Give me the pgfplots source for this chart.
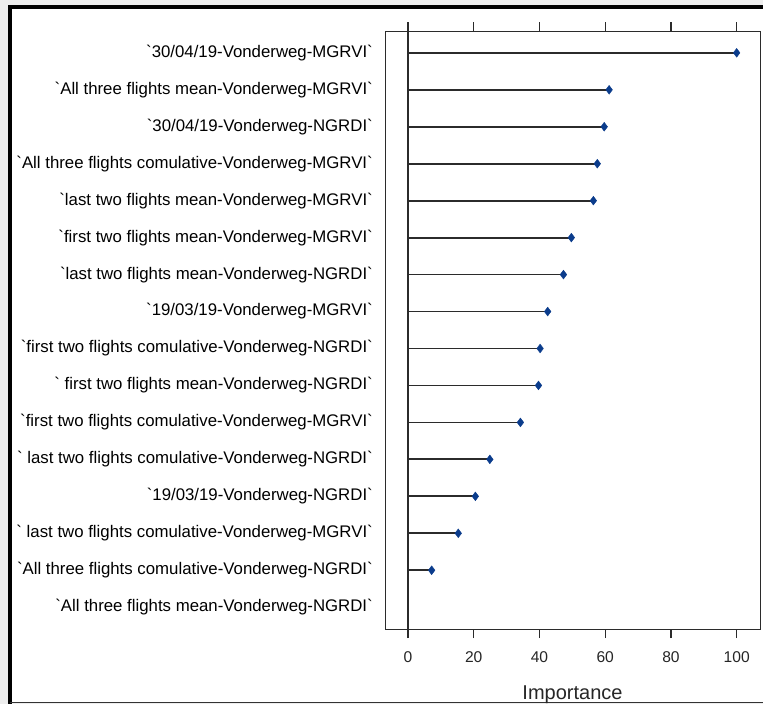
\documentclass[border=0pt]{standalone}
\usepackage{pgfplots}
\pgfplotsset{compat=1.18}
\usepackage{pgfplotstable}
\usepackage{fontspec}
\setmainfont{Liberation Sans}
\definecolor{stem}{HTML}{2B2B2B}
\definecolor{dot}{HTML}{0B3C8C}
\definecolor{edge}{HTML}{EDEDED}
\newcommand{\bq}{\textasciigrave}

% variable importance, ranked from the top
\pgfplotstableread{
rank imp
1  100
2  61.2
3  59.7
4  57.6
5  56.4
6  49.7
7  47.3
8  42.5
9  40.2
10 39.7
11 34.2
12 24.9
13 20.5
14 15.3
15 7.2
16 0
}\importance

\begin{document}
\begin{tikzpicture}
\useasboundingbox (0,0) rectangle (763bp,-704bp);
% page background and frame
\fill[edge] (0,0) rectangle (763bp,-704bp);
\fill[white] (9.5bp,-7bp) rectangle (763bp,-702.5bp);
\draw[black, line width=4bp] (9.5bp,-704bp) -- (9.5bp,-7bp) -- (763bp,-7bp);
\draw[black!80, line width=1.5bp] (9.5bp,-702.5bp) -- (763bp,-702.5bp);

\begin{axis}[
  at={(385bp,-629bp)}, anchor=south west,
  scale only axis, width=375bp, height=598bp,
  xmin=-7, xmax=107.1, ymin=0.41, ymax=16.59, y dir=reverse,
  axis line style={draw=stem, line width=1bp},
  clip=false,
  xtick={0,20,...,100}, xtick pos=both, xticklabel pos=lower,
  tick align=outside, major tick length=9bp,
  xtick style={draw=stem, line width=1.2bp},
  ytick={1,...,16}, ytick style={draw=none},
  /pgf/number format/assume math mode=true,
  xticklabel style={font=\fontsize{15.6bp}{18bp}\selectfont, text=black!85, yshift=-10bp},
  yticklabel style={font=\fontsize{16.8bp}{20bp}\selectfont, text=black, inner sep=0pt, xshift=-3bp},
  yticklabels={
    {\bq30/04/19-Vonderweg-MGRVI\bq},
    {\bq All three flights mean-Vonderweg-MGRVI\bq},
    {\bq30/04/19-Vonderweg-NGRDI\bq},
    {\bq All three flights comulative-Vonderweg-MGRVI\bq},
    {\bq last two flights mean-Vonderweg-MGRVI\bq},
    {\bq first two flights mean-Vonderweg-MGRVI\bq},
    {\bq last two flights mean-Vonderweg-NGRDI\bq},
    {\bq19/03/19-Vonderweg-MGRVI\bq},
    {\bq first two flights comulative-Vonderweg-NGRDI\bq},
    {\bq\ first two flights mean-Vonderweg-NGRDI\bq},
    {\bq first two flights comulative-Vonderweg-MGRVI\bq},
    {\bq\ last two flights comulative-Vonderweg-NGRDI\bq},
    {\bq19/03/19-Vonderweg-NGRDI\bq},
    {\bq\ last two flights comulative-Vonderweg-MGRVI\bq},
    {\bq All three flights comulative-Vonderweg-NGRDI\bq},
    {\bq All three flights mean-Vonderweg-NGRDI\bq}},
  xlabel={Importance},
  xlabel style={at={(axis description cs:0.5,0)}, anchor=base, yshift=-70bp,
    font=\fontsize{20bp}{24bp}\selectfont, text=black!85},
]
\addplot[xcomb, draw=stem, line width=1.8bp] table[x=imp, y=rank]{\importance};
\draw[stem, line width=2bp] (axis cs:0,0.41) -- (axis cs:0,16.59);
\addplot[only marks, mark=diamond*, mark size=4.4bp, color=dot,
  skip coords between index={15}{16}] table[x=imp, y=rank]{\importance};
\end{axis}
\end{tikzpicture}
\end{document}
